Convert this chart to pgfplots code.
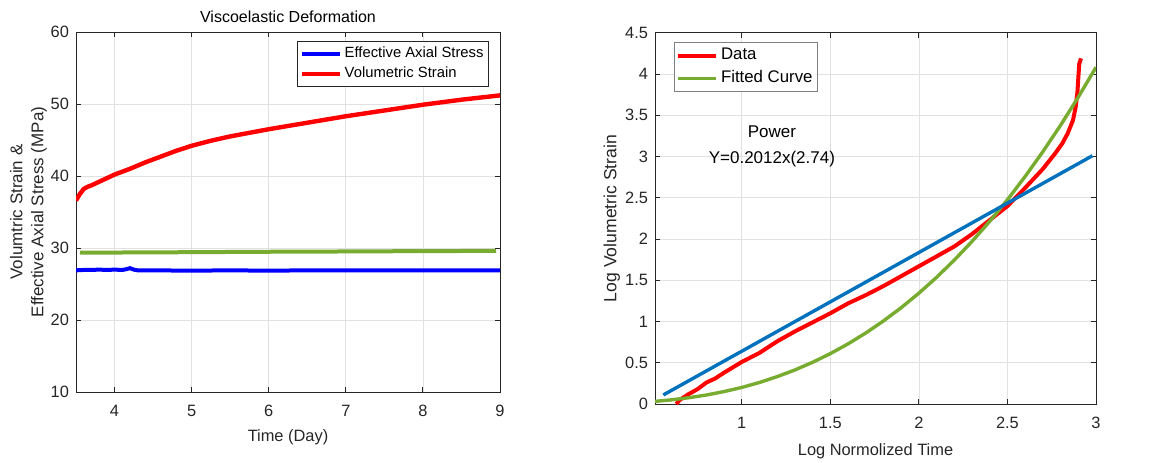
\documentclass[border=0pt]{standalone}
\usepackage{pgfplots}
\pgfplotsset{compat=1.18}
\usepackage{fontspec}
\setmainfont{Liberation Sans}
\definecolor{axgray}{RGB}{38,38,38}
\definecolor{gridgray}{RGB}{225,225,225}
\definecolor{mgreen}{RGB}{119,172,48}
\definecolor{mblue}{RGB}{0,114,189}
\pgfplotsset{
  mstyle/.style={
    scale only axis,
    axis line style={axgray, line width=0.5pt},
    tick style={axgray, line width=0.5pt},
    major tick length=2.5pt,
    tick align=inside,
    grid=major,
    major grid style={gridgray, line width=0.4pt},
    tick label style={font=\fontsize{8.2}{9}\selectfont, text=axgray},
    /pgf/number format/assume math mode=true,
    label style={font=\fontsize{8.2}{9}\selectfont, text=axgray},
    legend style={font=\fontsize{7.4}{9}\selectfont, draw=axgray, line width=0.5pt, inner sep=1pt, row sep=-1pt, nodes={inner xsep=1.5pt}},
    legend cell align=left,
    legend image code/.code={\draw[#1] (0pt,0pt) -- (19pt,0pt);},
    clip=true,
  }
}
\begin{document}
\begin{tikzpicture}
\useasboundingbox (0,0) rectangle (577pt,231pt);
% Left axis
\begin{axis}[mstyle,
  at={(38pt,35pt)}, anchor=south west,
  width=212pt, height=180pt,
  xmin=3.5, xmax=9, ymin=10, ymax=60,
  xtick={4,5,6,7,8,9}, ytick={10,20,30,40,50,60},
  xticklabel style={yshift=-3pt},
  title={Viscoelastic Deformation},
  title style={font=\fontsize{8}{9}\selectfont, text=black, at={(axis description cs:0.5,1)}, anchor=south, inner sep=0pt, yshift=-1.5pt},
  xlabel={Time (Day)},
  xlabel style={at={(axis description cs:0.5,-0.125)}, anchor=center},
  ylabel={Volumtric Strain \&\\[1.5pt]Effective Axial Stress (MPa)},
  ylabel style={at={(axis description cs:-0.112,0.5)}, anchor=center, align=center, font=\fontsize{8.5}{9}\selectfont},
  legend style={at={(0.974,0.976)}, anchor=north east},
]
\addplot[blue, line width=2pt] coordinates {
(3.5,26.9)(3.6,26.95)(3.7,26.95)(3.8,27.0)(3.9,26.95)(4.0,27.0)(4.1,26.95)(4.15,27.05)(4.2,27.2)(4.25,27.0)(4.3,26.9)(4.5,26.9)(5,26.85)(5.5,26.9)(6,26.85)(6.5,26.9)(7,26.9)(7.5,26.9)(8,26.9)(8.5,26.9)(9,26.9)
};
\addlegendentry{Effective Axial Stress}
\addplot[red, line width=2.2pt] coordinates {
(3.5,36.6)(3.55,37.5)(3.6,38.2)(3.65,38.5)(3.7,38.7)(3.8,39.2)(3.9,39.7)(4.0,40.2)(4.2,41.0)(4.4,41.9)(4.6,42.7)(4.8,43.5)(5.0,44.2)(5.25,44.9)(5.5,45.5)(5.75,46.0)(6.0,46.5)(6.5,47.4)(7.0,48.3)(7.5,49.1)(8.0,49.9)(8.5,50.6)(9.0,51.2)
};
\addlegendentry{Volumetric Strain}
\addplot[mgreen, line width=2pt, forget plot] coordinates {
(3.55,29.35)(5,29.42)(6,29.48)(7,29.52)(8,29.57)(8.95,29.6)
};
\end{axis}
% Right axis
\begin{axis}[mstyle,
  at={(327.5pt,29pt)}, anchor=south west,
  width=220.5pt, height=185.6pt,
  xmin=0.51, xmax=3, ymin=0, ymax=4.5,
  xtick={1,1.5,2,2.5,3}, ytick={0,0.5,1,1.5,2,2.5,3,3.5,4,4.5},
  xticklabel style={yshift=-3pt},
  xlabel={Log Normolized Time},
  xlabel style={at={(axis description cs:0.5,-0.128)}, anchor=center},
  ylabel={Log Volumetric Strain},
  ylabel style={at={(axis description cs:-0.098,0.5)}, anchor=center, font=\fontsize{8.8}{9}\selectfont},
  legend style={at={(0.042,0.976)}, anchor=north west, draw=gray, font=\fontsize{8.4}{9}\selectfont, row sep=0pt},
]
\addplot[red, line width=2pt] coordinates {
(0.63,0.0)(0.65,0.05)(0.7,0.12)(0.75,0.18)(0.8,0.26)(0.85,0.31)(0.9,0.38)(1.0,0.51)(1.1,0.62)(1.2,0.76)(1.3,0.88)(1.4,0.99)(1.5,1.10)(1.6,1.22)(1.7,1.32)(1.8,1.43)(1.9,1.55)(2.0,1.67)(2.1,1.79)(2.2,1.91)(2.3,2.06)(2.4,2.23)(2.5,2.40)(2.6,2.62)(2.7,2.85)(2.77,3.04)(2.81,3.16)(2.84,3.28)(2.87,3.44)(2.885,3.60)(2.895,3.78)(2.90,3.95)(2.905,4.12)(2.915,4.19)
};
\addlegendentry{Data}
\addplot[mgreen, line width=1.7pt] coordinates {
(0.51,0.032)(0.6,0.050)(0.7,0.076)(0.8,0.109)(0.9,0.151)(1.0,0.201)(1.1,0.261)(1.2,0.332)(1.3,0.413)(1.4,0.506)(1.5,0.611)(1.6,0.729)(1.7,0.861)(1.8,1.007)(1.9,1.168)(2.0,1.344)(2.1,1.536)(2.2,1.745)(2.3,1.971)(2.4,2.215)(2.5,2.477)(2.6,2.759)(2.7,3.059)(2.8,3.380)(2.9,3.721)(3.0,4.083)
};
\addlegendentry{Fitted Curve}
\addplot[mblue, line width=1.7pt, forget plot] coordinates {(0.557,0.11)(2.98,3.01)};
\node[font=\fontsize{8.5}{9}\selectfont, align=center, anchor=center] at (axis cs:1.17,3.12) {Power\\[4pt]Y=0.2012x(2.74)};
\end{axis}
\end{tikzpicture}
\end{document}
